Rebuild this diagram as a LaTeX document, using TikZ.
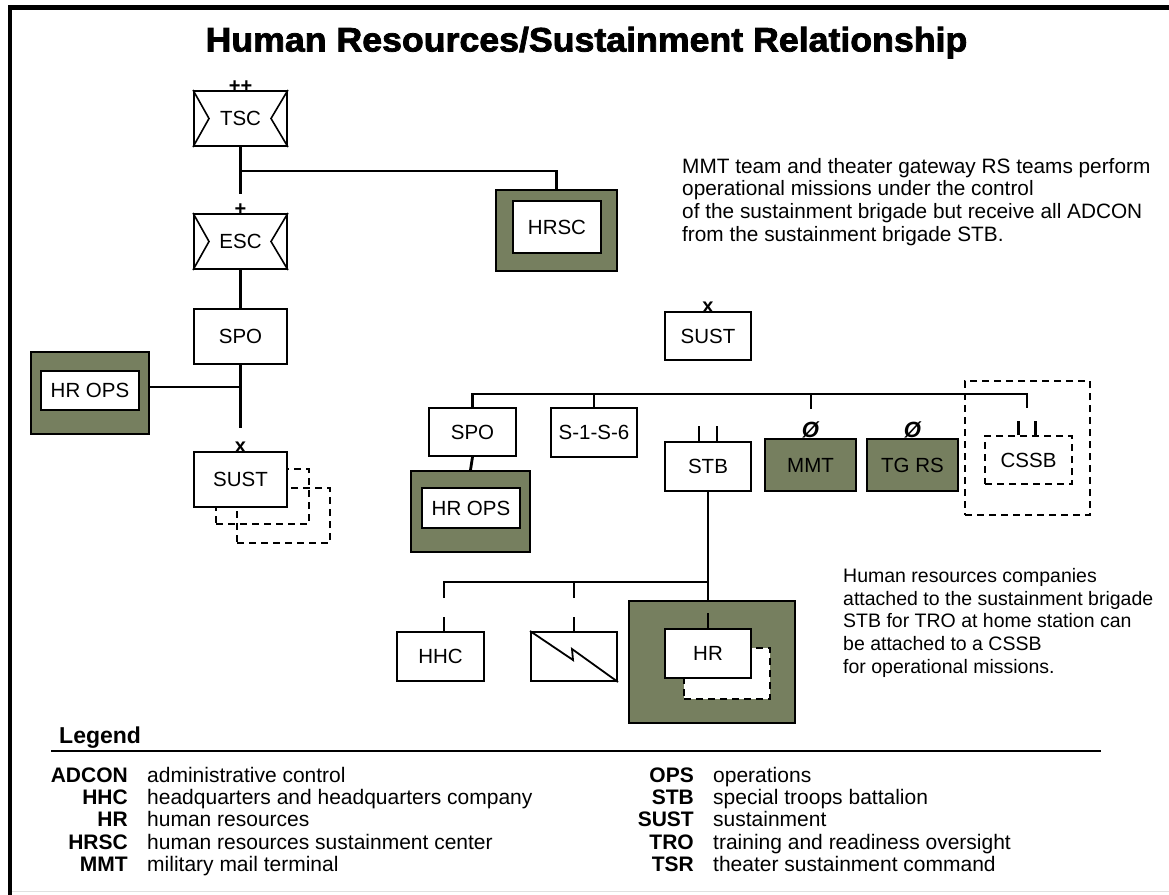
\documentclass[tikz,border=0pt]{standalone}
\usepackage{fontspec}
\setmainfont{Liberation Sans}
\newfontfamily\titlefont{Liberation Sans}[BoldFeatures={FakeBold=2.2}]
\usetikzlibrary{calc}
\definecolor{hrgreen}{RGB}{118,127,95}

\begin{document}
\begin{tikzpicture}[x=1pt,y=-1pt,
  unitbox/.style={draw, line width=2pt, fill=white, inner sep=0pt,
    font=\fontsize{20.5}{24}\selectfont},
  greenunit/.style={unitbox, fill=hrgreen},
  hrframe/.style={draw, line width=2pt, fill=hrgreen, inner sep=0pt},
  ghost/.style={draw, line width=2pt, dash pattern=on 7pt off 5pt, inner sep=0pt},
  link/.style={line width=2.8pt},
  thinlink/.style={line width=2.2pt},
  tick/.style={line width=2.2pt},
  envelope/.style={line width=1.6pt},
  echelon/.style={font=\bfseries\fontsize{20}{20}\selectfont, inner sep=0pt, anchor=base},
  note/.style={font=\fontsize{20.8}{22.6}\selectfont, align=left, inner sep=0pt, anchor=north west},
  note2/.style={font=\fontsize{19.5}{22.7}\selectfont, align=left, inner sep=0pt, anchor=north west},
  abbr/.style={font=\bfseries\fontsize{21}{21}\selectfont, anchor=base east, inner sep=0pt},
  desc/.style={font=\fontsize{21}{21}\selectfont, anchor=base west, inner sep=0pt},
]
\useasboundingbox (0,0) rectangle (1169,894);
\fill[white] (0,0) rectangle (1169,894);

% outer frame
\draw[line width=4.5pt] (10,900) -- (10,7.5) -- (1175,7.5);
\draw[black!12, line width=1pt] (12,891) -- (1169,891);

% title
\node[font=\titlefont\bfseries\fontsize{34}{34}\selectfont, anchor=base, inner sep=0pt] (title)
  at (586.5,51.5) {\scalebox{1.05}[1]{Human Resources/Sustainment Relationship}};

% ---------------- left chain: TSC -> ESC -> SPO -> SUST ----------------
\node[unitbox, minimum width=93pt, minimum height=55pt] (tsc) at (240.5,118.5) {TSC};
\node[unitbox, minimum width=93pt, minimum height=55pt] (esc) at (240.5,241.5) {ESC};
\foreach \b in {tsc,esc}{
  \draw[envelope] (\b.north west) -- ($(\b.west)+(16,0)$) -- (\b.south west);
  \draw[envelope] (\b.north east) -- ($(\b.east)+(-17,0)$) -- (\b.south east);
}
\node[echelon] (tscech) at ($(tsc.north)+(0,2)$) {++};
\node[echelon] (escech) at ($(esc.north)+(0,2)$) {+};

\node[unitbox, minimum width=93pt, minimum height=55pt] (spo1) at (240.5,336.5) {SPO};

\node[hrframe, minimum width=118pt, minimum height=82pt] (hrops1o) at (90,393) {};
\node[unitbox, minimum width=98pt, minimum height=39pt] (hrops1) at (90,390.5) {HR OPS};

% stacked SUST elements
\node[ghost, minimum width=93pt, minimum height=55pt] (sustg2) at (283.5,515.5) {};
\node[ghost, minimum width=93pt, minimum height=55pt] (sustg1) at (262.5,496.5) {};
\node[unitbox, minimum width=93pt, minimum height=55pt] (sust1) at (240.5,479.5) {SUST};
\node[echelon] (sust1ech) at ($(sust1.north)+(0,1)$) {x};

% HRSC
\node[hrframe, minimum width=121pt, minimum height=81pt] (hrsco) at (556.5,230.5) {};
\node[unitbox, minimum width=88pt, minimum height=52pt] (hrsc) at (557,227) {HRSC};

\coordinate (tscstub) at (240.5,194);
\coordinate (tscbranch) at (240.5,171);
\coordinate (spo1stub) at (240.5,428);
\coordinate (hropsbranch) at (240.5,387);
\draw[link] (tsc.south) -- (tscstub);
\draw[thinlink] (tscbranch) -| (hrsco.north);
\draw[link] (esc.south) -- (spo1.north);
\draw[link] (spo1.south) -- (spo1stub);
\draw[link] (hropsbranch) -- (hropsbranch -| hrops1o.east);

% ---------------- sustainment brigade ----------------
\node[unitbox, minimum width=86pt, minimum height=48pt] (sust2) at (708,336) {SUST};
\node[echelon] (sust2ech) at ($(sust2.north)+(0,1)$) {x};

\node[unitbox, minimum width=87pt, minimum height=48pt] (spo2) at (472.5,432) {SPO};
\node[hrframe, minimum width=119pt, minimum height=81pt] (hrops2o) at (470.5,511.5) {};
\node[unitbox, minimum width=98pt, minimum height=40pt] (hrops2) at (471,508) {HR OPS};
\node[unitbox, minimum width=86pt, minimum height=49pt] (s16) at (594,432.5) {S-1-S-6};
\node[unitbox, minimum width=86pt, minimum height=49pt] (stb) at (708,466.5) {STB};
\draw[tick] ($(stb.north)+(-9,0)$) -- ++(0,-15);
\draw[tick] ($(stb.north)+(9,0)$) -- ++(0,-15);

\node[greenunit, minimum width=91pt, minimum height=52pt] (mmt) at (810.5,465) {MMT};
\node[greenunit, minimum width=91pt, minimum height=52pt] (tgrs) at (912.5,465) {TG RS};
\node[font=\bfseries\itshape\fontsize{22}{22}\selectfont, inner sep=0pt, anchor=base] (mmtech) at ($(mmt.north)+(0,-1)$) {Ø};
\node[font=\bfseries\itshape\fontsize{22}{22}\selectfont, inner sep=0pt, anchor=base] (tgrsech) at ($(tgrs.north)+(0,-1)$) {Ø};

\node[ghost, minimum width=125pt, minimum height=134pt] (cssbo) at (1027.5,448) {};
\node[ghost, fill=white, minimum width=87pt, minimum height=48pt,
  font=\fontsize{20.5}{24}\selectfont] (cssb) at (1028.5,460) {CSSB};

\coordinate (bus) at (0,394);
\coordinate (cssbdrop) at (1027,408);
\coordinate (mmtdrop) at (811,409);
\draw[thinlink] (spo2.north) -- (spo2.north |- bus) -- (cssbdrop |- bus) -- (cssbdrop);
\draw[thinlink] (s16.north) -- (s16.north |- bus);
\draw[thinlink] (mmtdrop |- bus) -- (mmtdrop);
\draw[link] (spo2.south) -- (hrops2o.north);
\draw[tick] ($(cssbdrop |- cssb.north)+(-8.5,0)$) -- ++(0,-14);
\draw[tick] ($(cssbdrop |- cssb.north)+(8.5,0)$) -- ++(0,-14);

% ---------------- special troops battalion ----------------
\node[unitbox, minimum width=87pt, minimum height=49pt] (hhc) at (440.5,656.5) {HHC};
\node[unitbox, minimum width=86pt, minimum height=49pt] (sig) at (574,656.5) {};
\draw[line width=1.8pt] (sig.north west) -- ($(sig.north west)+(43,29)$)
  -- ($(sig.north west)+(42,18)$) -- (sig.south east);

\node[hrframe, minimum width=166pt, minimum height=122pt] (hro) at (712,662) {};
\node[ghost, fill=white, minimum width=86pt, minimum height=51pt] (hrg) at (727,673.5) {};
\node[unitbox, minimum width=86pt, minimum height=49pt] (hr) at (708,653.5) {HR};

\coordinate (sbus) at (0,582);
\coordinate (hhcdrop) at (444,598);
\coordinate (sigdrop) at (574,598);
\draw[link] (stb.south) -- (stb.south |- hro.north);
\draw[thinlink] (hhcdrop) -- (hhcdrop |- sbus) -- (stb.south |- sbus);
\draw[thinlink] (sigdrop) -- (sigdrop |- sbus);
\draw[tick] (hhcdrop |- hhc.north) -- ++(0,-14);
\draw[tick] (sig.north) -- ++(0,-14);
\draw[tick] (hr.north) -- ++(0,-15);

% ---------------- notes ----------------
\node[note] (note1) at (682,158) {MMT team and theater gateway RS teams perform\\
operational missions under the control\\
of the sustainment brigade but receive all ADCON\\
from the sustainment brigade STB.};

\node[note2] (note2) at (843,568) {Human resources companies\\
attached to the sustainment brigade\\
STB for TRO at home station can\\
be attached to a CSSB\\
for operational missions.};

% ---------------- legend ----------------
\node[font=\bfseries\fontsize{23}{23}\selectfont, anchor=base west, inner sep=0pt] (legend) at (59,743) {Legend};
\coordinate (legl) at (51,751);
\coordinate (legr) at (1101,751);
\draw[line width=2.5pt] (legl) -- (legr);

\foreach \ab/\de [count=\i] in {ADCON/administrative control,
    HHC/headquarters and headquarters company,
    HR/human resources,
    HRSC/human resources sustainment center,
    MMT/military mail terminal}{
  \node[abbr] (la\i) at (128,760+22.3*\i) {\ab};
  \node[desc] (ld\i) at (147,760+22.3*\i) {\de};
}
\foreach \ab/\de [count=\i] in {OPS/operations,
    STB/special troops battalion,
    SUST/sustainment,
    TRO/training and readiness oversight,
    TSR/theater sustainment command}{
  \node[abbr] (ra\i) at (694,760+22.3*\i) {\ab};
  \node[desc] (rd\i) at (713,760+22.3*\i) {\de};
}
\end{tikzpicture}
\end{document}
